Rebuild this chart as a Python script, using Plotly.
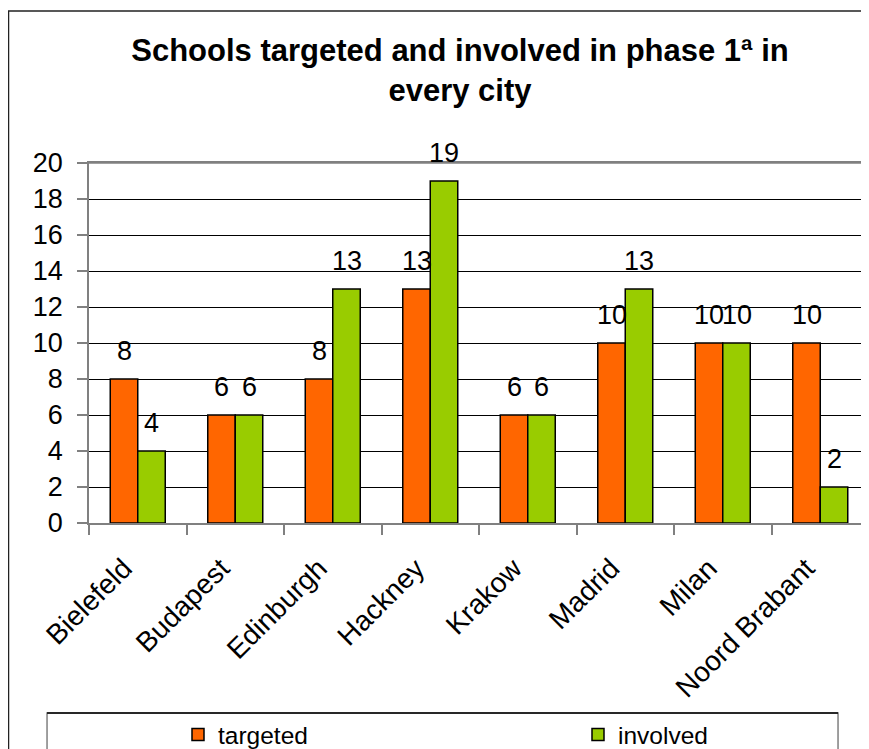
import plotly.graph_objects as go

cities = ["Bielefeld", "Budapest", "Edinburgh", "Hackney", "Krakow", "Madrid", "Milan", "Noord Brabant"]
targeted = [8, 6, 8, 13, 6, 10, 10, 10]
involved = [4, 6, 13, 19, 6, 13, 10, 2]
series_names = ["targeted", "involved"]
series_colors = ["#FF6600", "#99CC00"]
y_ticks = [0, 2, 4, 6, 8, 10, 12, 14, 16, 18, 20]
title_text = "Schools targeted and involved in phase 1ª in<br>every city"

FONT = "Arial, Liberation Sans, sans-serif"

# page has an 8px body margin; figure is sized to fill the rest of the window
W, H = 861, 741

fig = go.Figure()
legend_widths = [355, 120]
for name, vals, col, lw in zip(series_names, [targeted, involved], series_colors, legend_widths):
    fig.add_trace(go.Bar(
        x=cities, y=vals, name=name, legendwidth=lw,
        marker=dict(color=col, line=dict(color="#000000", width=1.5)),
    ))

# value labels above bars
bar_px = 13.75
for k, vals in enumerate([targeted, involved]):
    shift = -bar_px if k == 0 else bar_px
    for c, v in zip(cities, vals):
        fig.add_annotation(x=c, y=v, text=str(v), showarrow=False,
                           xshift=shift, yshift=11, yanchor="bottom",
                           font=dict(family=FONT, size=27, color="#000000"))

# outer chart border
fig.add_shape(type="rect", xref="paper", yref="paper",
              x0=-0.1032, x1=1.05, y0=-0.75, y1=1.4222,
              line=dict(color="#222222", width=1.5), fillcolor="rgba(0,0,0,0)", layer="below")
# legend box
fig.add_shape(type="rect", xref="paper", yref="paper",
              x0=-0.0538, x1=0.9603, y0=-0.75, y1=-0.5278,
              line=dict(color="#808080", width=1.5), fillcolor="rgba(0,0,0,0)", layer="below")
fig.add_shape(type="line", xref="paper", yref="paper",
              x0=-0.0538, x1=0.9603, y0=-0.5278, y1=-0.5278,
              line=dict(color="#000000", width=1.5))
# grey top edge of plot area
fig.add_shape(type="line", xref="paper", yref="paper",
              x0=0, x1=1, y0=1, y1=1,
              line=dict(color="#808080", width=1.5))

fig.update_layout(
    template="none",
    width=W, height=H,
    margin=dict(l=81, r=0, t=155, b=226, autoexpand=False),
    paper_bgcolor="white", plot_bgcolor="white",
    barmode="group", bargap=0.436, bargroupgap=0,
    font=dict(family=FONT, size=27, color="#000000"),
    title=dict(
        text=title_text,
        font=dict(family=FONT, size=31, color="#000000", weight="bold"),
        x=452 / W, xanchor="center", xref="container",
        y=1 - 52.5 / H, yanchor="top", yref="container",
    ),
    showlegend=True,
    legend=dict(
        orientation="h", x=0.1141, xanchor="left", y=-0.5875, yanchor="middle",
        entrywidthmode="pixels",
        font=dict(family=FONT, size=24.5, color="#000000"),
        bgcolor="rgba(0,0,0,0)", borderwidth=0,
    ),
    xaxis=dict(
        type="category", tickangle=-45, tickson="boundaries",
        ticks="outside", ticklen=10, tickcolor="#808080", tickwidth=1.5,
        showline=True, linecolor="#808080", linewidth=1.5, mirror=True,
        showgrid=False, automargin=False,
        ticklabelstandoff=16, ticklabelshift=-14,
        tickfont=dict(family=FONT, size=28, color="#000000"),
    ),
    yaxis=dict(
        range=[0, 20], tickvals=y_ticks,
        ticks="outside", ticklen=10, tickcolor="#808080", tickwidth=1.5,
        showline=True, linecolor="#808080", linewidth=1.5,
        showgrid=True, gridcolor="#000000", gridwidth=1,
        zeroline=False, automargin=False, ticklabelstandoff=9,
        tickfont=dict(family=FONT, size=27, color="#000000"),
    ),
)

fig.write_html("out.html")
